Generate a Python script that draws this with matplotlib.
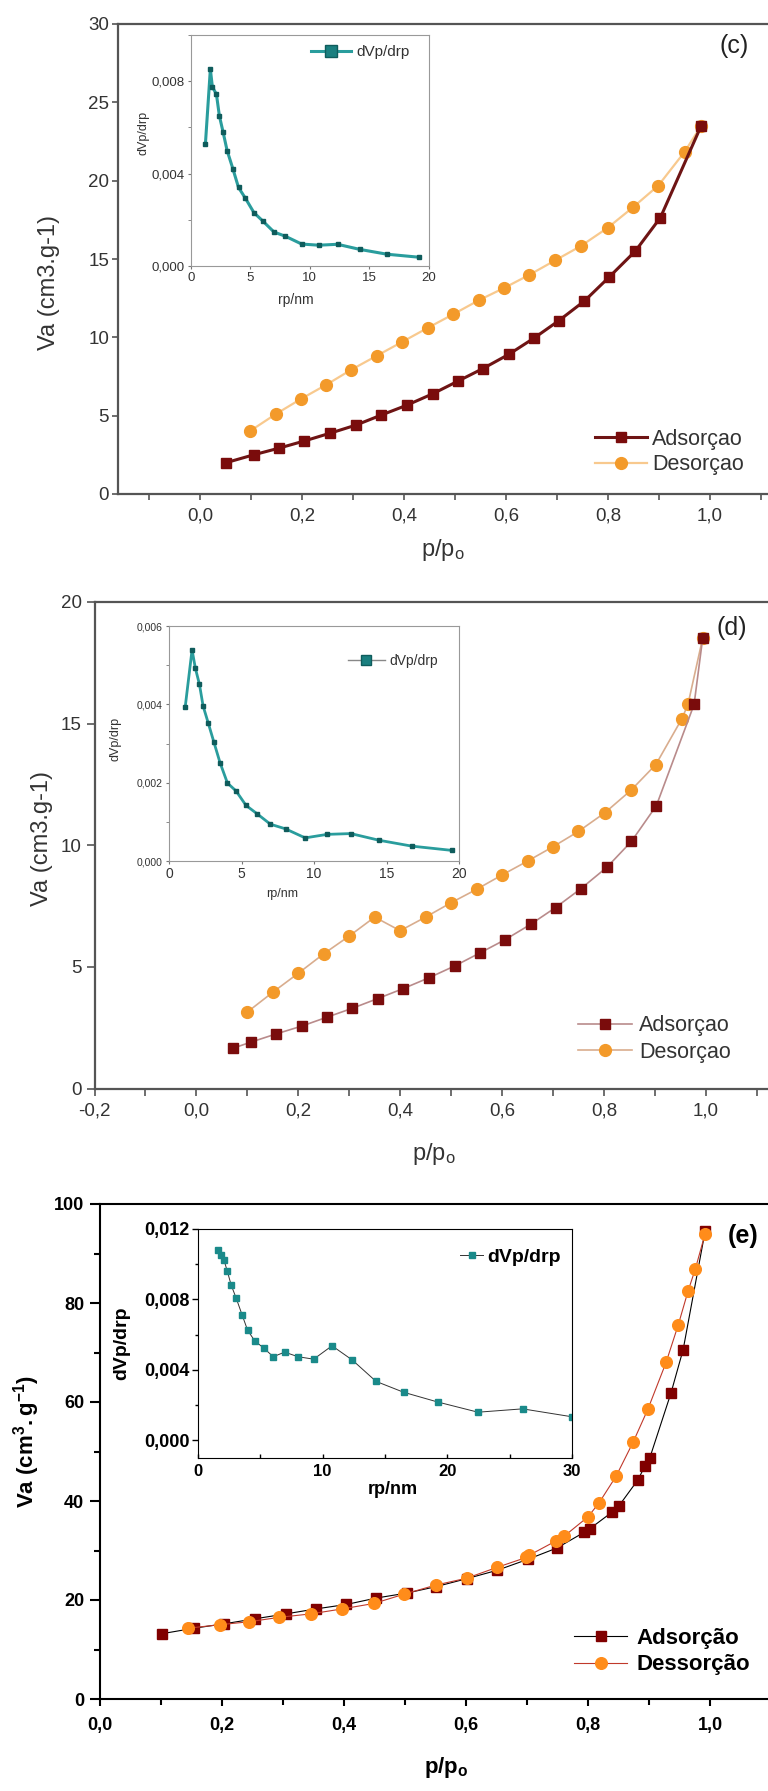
import numpy as np
import matplotlib
matplotlib.use("Agg")
import matplotlib.pyplot as plt
from matplotlib.ticker import FuncFormatter, MultipleLocator

plt.rcParams['font.family'] = ['Liberation Sans', 'DejaVu Sans']
plt.rcParams['mathtext.fontset'] = 'custom'
plt.rcParams['mathtext.rm'] = 'Liberation Sans'
plt.rcParams['mathtext.it'] = 'Liberation Sans:italic'
plt.rcParams['mathtext.bf'] = 'Liberation Sans:bold'

# ---- painel (c) ----
c_ads_x = [0.051, 0.105, 0.154, 0.204, 0.255, 0.306, 0.354, 0.405, 0.456, 0.505,
           0.555, 0.606, 0.656, 0.704, 0.754, 0.802, 0.854, 0.903, 0.983]
c_ads_y = [2.0, 2.5, 2.92, 3.38, 3.88, 4.40, 5.02, 5.66, 6.39, 7.19,
           8.01, 8.92, 9.97, 11.07, 12.32, 13.83, 15.51, 17.64, 23.5]
c_des_x = [0.098, 0.148, 0.198, 0.248, 0.297, 0.347, 0.397, 0.447, 0.497, 0.547,
           0.597, 0.646, 0.697, 0.747, 0.800, 0.850, 0.899, 0.951, 0.983]
c_des_y = [4.02, 5.09, 6.07, 6.98, 7.94, 8.83, 9.72, 10.61, 11.48, 12.37,
           13.16, 13.99, 14.92, 15.83, 17.0, 18.32, 19.69, 21.86, 23.5]
c_rp = [1.21, 1.63, 1.80, 2.14, 2.39, 2.70, 3.04, 3.52, 4.0, 4.56,
        5.3, 6.06, 6.99, 7.94, 9.32, 10.76, 12.34, 14.2, 16.5, 19.2]
c_dv = [0.00526, 0.00852, 0.00775, 0.00744, 0.0065, 0.0058, 0.0050, 0.00422, 0.0034, 0.00295,
        0.00231, 0.00194, 0.00147, 0.00129, 0.00095, 0.0009, 0.00094, 0.00072, 0.00051, 0.00038]

# ---- painel (d) ----
d_ads_x = [0.072, 0.107, 0.157, 0.207, 0.257, 0.306, 0.356, 0.406, 0.456, 0.507,
           0.557, 0.606, 0.656, 0.705, 0.755, 0.806, 0.854, 0.903, 0.977, 0.994]
d_ads_y = [1.66, 1.91, 2.25, 2.57, 2.94, 3.30, 3.70, 4.11, 4.55, 5.04,
           5.58, 6.12, 6.75, 7.44, 8.22, 9.10, 10.16, 11.63, 15.79, 18.53]
d_des_x = [0.099, 0.150, 0.200, 0.250, 0.300, 0.350, 0.400, 0.450, 0.500, 0.550,
           0.600, 0.650, 0.700, 0.750, 0.802, 0.853, 0.902, 0.953, 0.965, 0.994]
d_des_y = [3.13, 3.96, 4.74, 5.54, 6.27, 7.05, 6.49, 7.05, 7.64, 8.19,
           8.78, 9.35, 9.94, 10.57, 11.34, 12.26, 13.32, 15.20, 15.79, 18.53]
d_rp = [1.12, 1.59, 1.82, 2.10, 2.35, 2.70, 3.10, 3.52, 4.03, 4.62,
        5.31, 6.06, 6.99, 8.04, 9.39, 10.91, 12.54, 14.48, 16.74, 19.53]
d_dv = [3.94e-3, 5.39e-3, 4.92e-3, 4.51e-3, 3.96e-3, 3.53e-3, 3.03e-3, 2.51e-3, 1.99e-3, 1.79e-3,
        1.42e-3, 1.21e-3, 0.94e-3, 0.82e-3, 0.59e-3, 0.68e-3, 0.70e-3, 0.53e-3, 0.38e-3, 0.27e-3]

# ---- painel (e) ----
e_ads_x = [0.102, 0.154, 0.204, 0.254, 0.305, 0.354, 0.404, 0.453, 0.503, 0.551,
           0.601, 0.651, 0.701, 0.749, 0.794, 0.803, 0.840, 0.850, 0.882, 0.893,
           0.901, 0.936, 0.956, 0.992]
e_ads_y = [13.2, 14.3, 15.2, 16.2, 17.2, 18.2, 19.1, 20.4, 21.4, 22.7,
           24.3, 26.0, 28.2, 30.5, 33.7, 34.4, 37.8, 38.9, 44.3, 47.0,
           48.6, 61.8, 70.6, 94.5]
e_des_x = [0.144, 0.196, 0.244, 0.294, 0.346, 0.397, 0.449, 0.499, 0.550, 0.601,
           0.651, 0.699, 0.703, 0.747, 0.761, 0.800, 0.818, 0.846, 0.874, 0.898,
           0.928, 0.948, 0.964, 0.976, 0.992]
e_des_y = [14.3, 15.0, 15.6, 16.5, 17.2, 18.2, 19.3, 21.2, 23.0, 24.4,
           26.6, 28.6, 29.0, 31.9, 32.9, 36.8, 39.6, 45.0, 51.9, 58.5,
           68.0, 75.6, 82.4, 86.9, 94.0]
e_rp = [1.60, 1.84, 2.09, 2.35, 2.67, 3.07, 3.53, 3.98, 4.55, 5.27, 6.04,
        6.95, 8.02, 9.28, 10.75, 12.38, 14.28, 16.5, 19.22, 22.46, 26.04, 30.0]
e_dv = [0.01079, 0.01051, 0.01023, 0.0096, 0.0088, 0.00806, 0.00714, 0.00625, 0.00565, 0.00524, 0.00475,
        0.00501, 0.00475, 0.00461, 0.00537, 0.00456, 0.00335, 0.00273, 0.00218, 0.0016, 0.00179, 0.00134]

W, H = 768, 1791
fig = plt.figure(figsize=(W / 100, H / 100), dpi=100)


def add_ax(l, t, r, b):
    return fig.add_axes([l / W, 1 - b / H, (r - l) / W, (b - t) / H])


def ftext(x, y, s, **kw):
    fig.text(x / W, 1 - y / H, s, ha='center', va='center', **kw)


def comma(fmt):
    return FuncFormatter(lambda v, p: fmt.format(v).replace('.', ','))


def legend_at(ax, handles, labels, x, y, size, hl, tp, ls, weight='normal', color='#333333'):
    leg = ax.legend(handles, labels, loc='center left', bbox_to_anchor=(x / W, 1 - y / H),
                    bbox_transform=fig.transFigure, frameon=False, borderpad=0, borderaxespad=0,
                    handlelength=hl, handletextpad=tp, labelspacing=ls, numpoints=1,
                    prop={'size': size, 'weight': weight})
    for t in leg.get_texts():
        t.set_color(color)
    return leg


gray = '#333333'
dred = '#7a0c0c'
orange = '#f39a2a'
teal = '#1a8a8a'

# ================= (c) =================
ax = add_ax(117.5, 24, 771, 494)
l2, = ax.plot(c_des_x, c_des_y, '-o', color='#f8c98e', lw=1.6, ms=8.5, mfc=orange, mec=orange)
l1, = ax.plot(c_ads_x, c_ads_y, '-s', color='#6e1414', lw=2.2, ms=7, mfc=dred, mec=dred)
ax.set_xlim(-0.162, 1.12)
ax.set_ylim(0, 30)
ax.xaxis.set_major_locator(MultipleLocator(0.2))
ax.xaxis.set_minor_locator(MultipleLocator(0.1))
ax.yaxis.set_major_locator(MultipleLocator(5))
ax.xaxis.set_major_formatter(comma('{:.1f}'))
ax.tick_params(which='both', direction='out', color='#555555', labelcolor=gray, labelsize=13.5)
ax.tick_params(axis='x', which='major', length=4, width=1.2, pad=6)
ax.tick_params(axis='x', which='minor', length=4, width=1.2)
ax.tick_params(axis='y', length=4, width=1.2, pad=2)
for s in ax.spines.values():
    s.set_color('#555555')
    s.set_linewidth(1.6)
legend_at(ax, [l1, l2], ['Adsorçao', 'Desorçao'], 595, 452, 15.5, 2.4, 0.25, 0.2)
ftext(49, 282, 'Va (cm3.g-1)', rotation=90, fontsize=17, color=gray)
ftext(443, 550, 'p/p$_\\mathregular{o}$', fontsize=17, color=gray)
ftext(734, 46, '(c)', fontsize=18, color='#222222')

ins = add_ax(191, 35, 428.5, 266)
li, = ins.plot(c_rp, c_dv, '-s', color='#2a9d9d', lw=2.2, ms=3.5, mfc='#0f5c5c', mec='#0f5c5c')
ins.set_xlim(0, 20)
ins.set_ylim(0, 0.010)
ins.xaxis.set_major_locator(MultipleLocator(5))
ins.yaxis.set_major_locator(MultipleLocator(0.004))
ins.yaxis.set_minor_locator(MultipleLocator(0.002))
ins.yaxis.set_major_formatter(comma('{:.3f}'))
ins.tick_params(which='both', direction='out', color='#777777', labelcolor=gray, labelsize=9.5, length=2.5, pad=2)
for s in ins.spines.values():
    s.set_color('#999999')
leg = legend_at(ins, [li], ['dVp/drp'], 311, 52, 11, 2.65, 0.32, 0.2)
leg.legend_handles[0].set_markersize(8)
leg.legend_handles[0].set_markerfacecolor('#1a7f7f')
ftext(143, 133, 'dVp/drp', rotation=90, fontsize=9, color=gray)
ftext(296, 300, 'rp/nm', fontsize=10, color=gray)

# ================= (d) =================
ax = add_ax(94.5, 602, 771, 1088.6)
l2, = ax.plot(d_des_x, d_des_y, '-o', color='#d9ad8e', lw=1.2, ms=8.5, mfc=orange, mec=orange)
l1, = ax.plot(d_ads_x, d_ads_y, '-s', color='#b98b8b', lw=1.2, ms=7, mfc=dred, mec=dred)
ax.set_xlim(-0.2, 1.128)
ax.set_ylim(0, 20)
ax.xaxis.set_major_locator(MultipleLocator(0.2))
ax.xaxis.set_minor_locator(MultipleLocator(0.1))
ax.yaxis.set_major_locator(MultipleLocator(5))
ax.xaxis.set_major_formatter(comma('{:.1f}'))
ax.tick_params(which='both', direction='out', color='#555555', labelcolor=gray, labelsize=13.5)
ax.tick_params(axis='x', which='both', length=5, width=1.2, pad=5)
ax.tick_params(axis='y', length=6, width=1.2, pad=3)
for s in ax.spines.values():
    s.set_color('#555555')
    s.set_linewidth(1.6)
legend_at(ax, [l1, l2], ['Adsorçao', 'Desorçao'], 578, 1039, 15.5, 2.5, 0.33, 0.27)
ftext(42, 839, 'Va (cm3.g-1)', rotation=90, fontsize=17, color=gray)
ftext(434, 1154, 'p/p$_\\mathregular{o}$', fontsize=17, color=gray)
ftext(732, 628, '(d)', fontsize=18, color='#222222')

ins = add_ax(169, 626, 459, 861)
li, = ins.plot(d_rp, d_dv, '-s', color='#2a9d9d', lw=2.0, ms=3.5, mfc='#0f5c5c', mec='#0f5c5c')
ins.set_xlim(0, 20)
ins.set_ylim(0, 0.006)
ins.xaxis.set_major_locator(MultipleLocator(5))
ins.yaxis.set_major_locator(MultipleLocator(0.002))
ins.yaxis.set_minor_locator(MultipleLocator(0.001))
ins.yaxis.set_major_formatter(comma('{:.3f}'))
ins.tick_params(which='both', direction='out', color='#777777', labelcolor=gray, length=2.5, pad=2)
ins.tick_params(axis='y', labelsize=7.5)
ins.tick_params(axis='x', labelsize=10)
for s in ins.spines.values():
    s.set_color('#999999')
leg = legend_at(ins, [li], ['dVp/drp'], 348, 661, 10, 2.66, 0.3, 0.2)
leg.legend_handles[0].set_markersize(7)
leg.legend_handles[0].set_markerfacecolor('#1a7f7f')
leg.legend_handles[0].set_color('#888888')
leg.legend_handles[0].set_linewidth(1)
ftext(115, 739, 'dVp/drp', rotation=90, fontsize=9, color=gray)
ftext(282, 894, 'rp/nm', fontsize=9, color=gray)

# ================= (e) =================
ax = add_ax(100, 1204, 771, 1699)
l1, = ax.plot(e_ads_x, e_ads_y, '-s', color='black', lw=0.8, ms=6.7, mfc='#800000', mec='#800000')
l2, = ax.plot(e_des_x, e_des_y, '-o', color='#c0392b', lw=0.8, ms=8.4, mfc='#ff8c1a', mec='#ff8c1a')
ax.set_xlim(0, 1.1)
ax.set_ylim(0, 100)
ax.xaxis.set_major_locator(MultipleLocator(0.2))
ax.xaxis.set_minor_locator(MultipleLocator(0.1))
ax.yaxis.set_major_locator(MultipleLocator(20))
ax.yaxis.set_minor_locator(MultipleLocator(10))
ax.xaxis.set_major_formatter(comma('{:.1f}'))
ax.tick_params(which='both', direction='out', width=1.5, labelsize=13)
ax.tick_params(axis='x', which='major', length=5, pad=8)
ax.tick_params(axis='x', which='minor', length=4)
ax.tick_params(axis='y', which='major', length=7.5, pad=4)
ax.tick_params(axis='y', which='minor', length=4)
for lab in ax.get_xticklabels() + ax.get_yticklabels():
    lab.set_fontweight('bold')
for s in ax.spines.values():
    s.set_linewidth(1.5)
legend_at(ax, [l1, l2], ['Adsorção', 'Dessorção'], 574, 1651.5, 16, 2.4, 0.4, 0.25,
          weight='bold', color='black')
ftext(27, 1442, '$\\mathbf{Va\\ (cm^{3}.g^{-1})}$', rotation=90, fontsize=16)
ftext(446, 1768, '$\\mathbf{p/p_{o}}$', fontsize=16)
ftext(743, 1236, '(e)', fontsize=18, fontweight='bold')

ins = add_ax(198, 1229, 572, 1458)
li, = ins.plot(e_rp, e_dv, '-s', color='#333333', lw=0.7, ms=4.8, mfc=teal, mec=teal)
ins.set_xlim(0, 30)
ins.set_ylim(-0.001, 0.012)
ins.xaxis.set_major_locator(MultipleLocator(10))
ins.xaxis.set_minor_locator(MultipleLocator(5))
ins.yaxis.set_major_locator(MultipleLocator(0.004))
ins.yaxis.set_minor_locator(MultipleLocator(0.002))
ins.yaxis.set_major_formatter(comma('{:.3f}'))
ins.tick_params(axis='y', which='major', direction='out', length=4, width=1, pad=2, labelsize=13)
ins.tick_params(axis='y', which='minor', direction='out', length=2.5, width=1)
ins.tick_params(axis='x', which='both', direction='in', length=3, width=1, pad=4, labelsize=12)
for lab in ins.get_xticklabels() + ins.get_yticklabels():
    lab.set_fontweight('bold')
leg = legend_at(ins, [li], ['dVp/drp'], 460, 1257, 14, 1.2, 0.2, 0.2, weight='bold', color='black')
ftext(122, 1343, 'dVp/drp', rotation=90, fontsize=14, fontweight='bold')
ftext(393, 1489, 'rp/nm', fontsize=13, fontweight='bold')

fig.savefig('out.png', dpi=100)
